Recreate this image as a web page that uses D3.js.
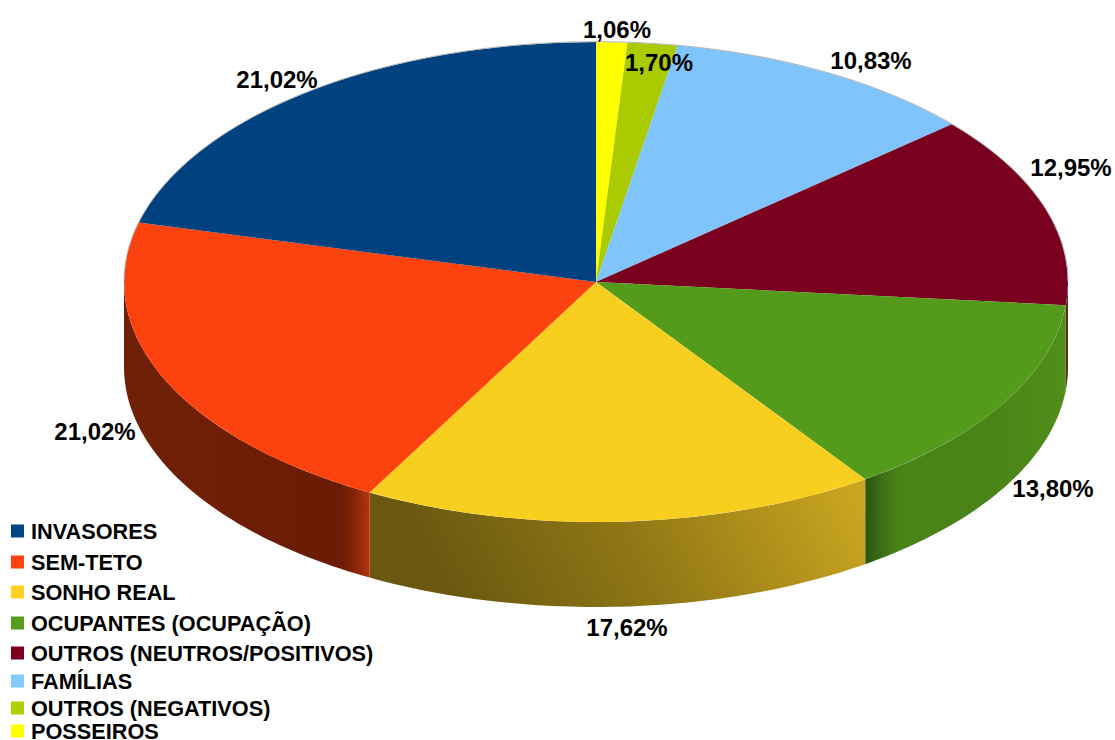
<!DOCTYPE html>
<html>
<head>
<meta charset="utf-8">
<script src="https://cdn.jsdelivr.net/npm/d3@7/dist/d3.min.js"></script>
<style>
html,body{margin:0;padding:0;background:#fff;overflow:hidden}
text{font-family:"Liberation Sans",Arial,sans-serif;font-weight:700;fill:#000}
</style>
</head>
<body>
<svg id="c" width="1115" height="740"></svg>
<script>
// Data: clockwise from 12 o'clock, as drawn
const categories = ["POSSEIROS","OUTROS (NEGATIVOS)","FAMÍLIAS","OUTROS (NEUTROS/POSITIVOS)","OCUPANTES (OCUPAÇÃO)","SONHO REAL","SEM-TETO","INVASORES"];
const values = [1.06,1.70,10.83,12.95,13.80,17.62,21.02,21.02];
const colors = ["#ffff00","#aacb00","#7fc4fa","#7a0020","#559b1b","#f9cf1f","#fc420e","#00427f"];
const legendOrder = ["INVASORES","SEM-TETO","SONHO REAL","OCUPANTES (OCUPAÇÃO)","OUTROS (NEUTROS/POSITIVOS)","FAMÍLIAS","OUTROS (NEGATIVOS)","POSSEIROS"];
const legendSwatch = ["#004586","#ff420e","#ffd320","#579d1c","#7e0021","#83caff","#aecf00","#ffff00"];

// Layout
const W = 1115, H = 740;
const cx = 596, cy = 282, rx = 472, ry = 240, depth = 85;
const legendY = [531,562,592,623,653,681,708,731];
const labelPos = [[617,29],[659,62],[871,60],[1071,167],[1053,488],[627,627],[95,431],[277,79]];

const svg = d3.select("#c").attr("viewBox",[0,0,W,H]);
const defs = svg.append("defs");

function addGrad(id, x1,y1,x2,y2, stops){
  const g = defs.append("linearGradient").attr("id",id).attr("gradientUnits","userSpaceOnUse")
    .attr("x1",x1).attr("y1",y1).attr("x2",x2).attr("y2",y2);
  stops.forEach(s=>g.append("stop").attr("offset",s[0]).attr("stop-color",s[1]));
}
addGrad("wallRed",124,0,371,0,[[0,"#6f2006"],[.35,"#701f06"],[.72,"#6a1c05"],[.88,"#6b1c05"],[.94,"#8a2608"],[1,"#bb3310"]]);
addGrad("wallYellow",470,640,830,450,[[0,"#6a5810"],[.45,"#8f7615"],[1,"#c9a520"]]);
addGrad("wallGreen",866,0,1068,0,[[0,"#2b5410"],[.07,"#3b6c14"],[.16,"#4a8418"],[.6,"#4a8418"],[1,"#508e1a"]]);

const wallFill = {5:"url(#wallYellow)",6:"url(#wallRed)",4:"url(#wallGreen)",3:"#5c2c1c"};

const pie = d3.pie().sort(null).value(d=>d);
const arcs = pie(values);

const px = t => cx + rx*Math.sin(t);
const py = (t,dy=0) => cy - ry*Math.cos(t) + dy;
const line = d3.line();

// side walls (only the front half of the rim, angle between 90° and 270°)
const wallG = svg.append("g");
arcs.forEach((a,i)=>{
  const t0 = Math.max(a.startAngle, Math.PI/2), t1 = Math.min(a.endAngle, 3*Math.PI/2);
  if (t1 <= t0) return;
  const ts = d3.range(0,61).map(k=>t0+(t1-t0)*k/60);
  const pts = ts.map(t=>[px(t),py(t)]).concat(ts.slice().reverse().map(t=>[px(t),py(t,depth)]));
  wallG.append("path").attr("d",line(pts)+"Z").attr("fill",wallFill[i]||colors[i]);
});

// top faces
const arc = d3.arc().innerRadius(0).outerRadius(rx);
svg.append("g").attr("transform",`translate(${cx},${cy}) scale(1,${ry/rx})`)
  .selectAll("path").data(arcs).join("path")
  .attr("d",arc).attr("fill",(d,i)=>colors[i]);

// faint outline along the back of the top face only
const backTs = d3.range(0,121).map(k=>-Math.PI/2+Math.PI*k/120);
svg.append("path").attr("d",line(backTs.map(t=>[px(t),py(t)-.3])))
  .attr("fill","none").attr("stroke","#b4b4b4").attr("stroke-width",1);

// percentage labels
const fmt = v => v.toFixed(2).replace(".",",")+"%";
svg.append("g").selectAll("text").data(values).join("text")
  .attr("x",(d,i)=>labelPos[i][0]).attr("y",(d,i)=>labelPos[i][1])
  .attr("dy",".36em").attr("text-anchor","middle").attr("font-size",24)
  .text(fmt);

// legend
const lg = svg.append("g").selectAll("g").data(legendOrder).join("g")
  .attr("transform",(d,i)=>`translate(0,${legendY[i]})`);
lg.append("rect").attr("x",11).attr("y",-6.5).attr("width",13).attr("height",13)
  .attr("fill",(d,i)=>legendSwatch[i]);
lg.append("text").attr("x",31).attr("dy",".36em").attr("font-size",21.7).text(d=>d);
</script>
</body>
</html>
